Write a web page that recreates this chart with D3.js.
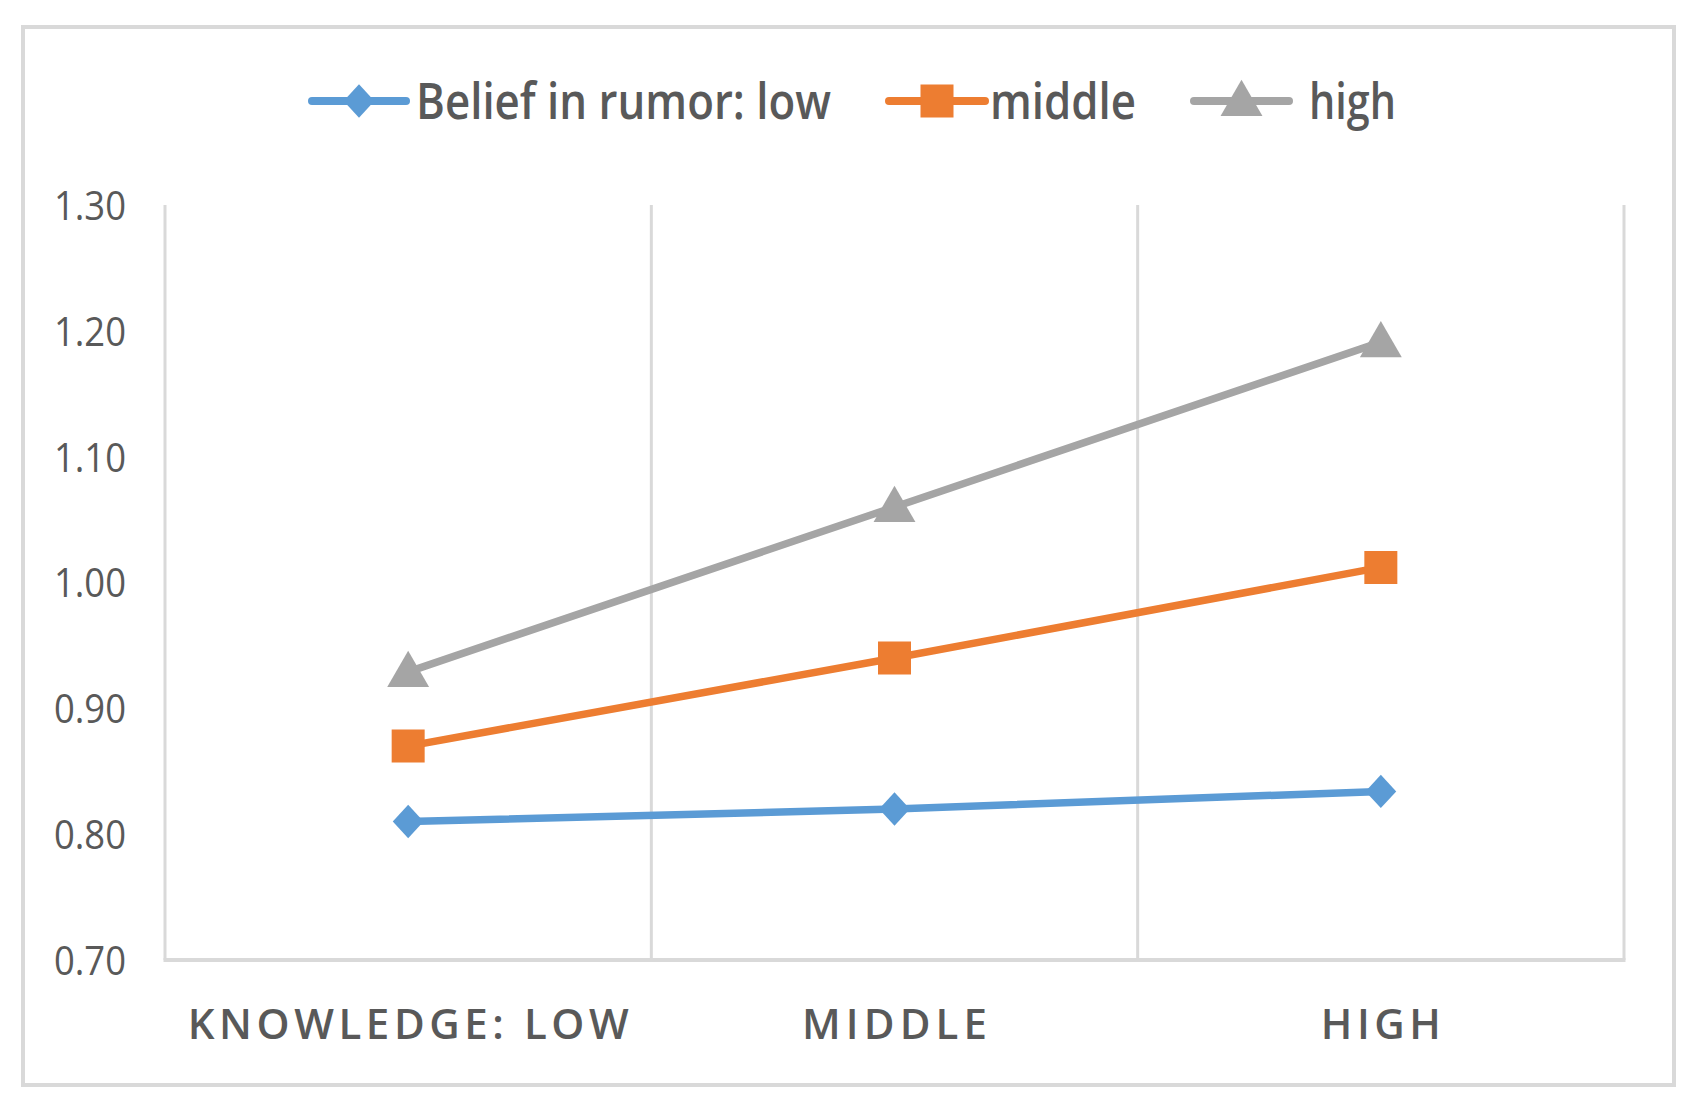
<!DOCTYPE html>
<html>
<head>
<meta charset="utf-8">
<script src="https://cdn.jsdelivr.net/npm/d3@7"></script>
<style>
  html, body { margin: 0; padding: 0; background: #ffffff; }
  svg { display: block; }
</style>
</head>
<body>
<script>
// ---- data ----
const categories = ["KNOWLEDGE: LOW", "MIDDLE", "HIGH"];
const seriesNames = ["Belief in rumor: low", "middle", "high"];
const beliefLow = [0.81, 0.82, 0.834];
const beliefMiddle = [0.87, 0.94, 1.012];
const beliefHigh = [0.929, 1.06, 1.191];
const yTicks = [0.70, 0.80, 0.90, 1.00, 1.10, 1.20, 1.30];

const W = 1700, H = 1116;
const margin = { left: 165, right: 1624, top: 205, bottom: 960 };
const colors = ["#5b9bd5", "#ed7d31", "#a5a5a5"];

const svg = d3.select("body").append("svg").attr("width", W).attr("height", H);

// outer border
svg.append("rect")
  .attr("x", 23).attr("y", 27).attr("width", 1651).attr("height", 1058)
  .attr("fill", "#ffffff").attr("stroke", "#d9d9d9").attr("stroke-width", 4);

const x = d3.scaleBand().domain(categories).range([margin.left, margin.right]).padding(0);
const y = d3.scaleLinear().domain([0.7, 1.3]).range([margin.bottom, margin.top]);

// vertical gridlines at category boundaries
const bounds = [margin.left].concat(categories.map(c => x(c) + x.bandwidth()));
svg.append("g").selectAll("line").data(bounds).join("line")
  .attr("x1", d => d).attr("x2", d => d)
  .attr("y1", margin.top).attr("y2", margin.bottom)
  .attr("stroke", "#d9d9d9").attr("stroke-width", 3);

// x axis line
svg.append("line")
  .attr("x1", margin.left - 1.5).attr("x2", margin.right + 1.5)
  .attr("y1", margin.bottom).attr("y2", margin.bottom)
  .attr("stroke", "#d9d9d9").attr("stroke-width", 4);

// y axis tick labels
const yAxis = svg.append("g")
  .attr("transform", `translate(${margin.left},0)`)
  .call(d3.axisLeft(y).tickValues(yTicks).tickFormat(d3.format(".2f")).tickSize(0).tickPadding(39));
yAxis.select(".domain").remove();
yAxis.selectAll("text")
  .attr("font-family", "'Open Sans', sans-serif")
  .attr("font-weight", 400)
  .attr("font-size", 40)
  .attr("fill", "#595959")
  .attr("dy", "0.36em")
  .attr("textLength", 72)
  .attr("lengthAdjust", "spacingAndGlyphs");

// x axis labels
const xLabelWidths = { "KNOWLEDGE: LOW": 441, "MIDDLE": 185, "HIGH": 120 };
const xAxis = svg.append("g")
  .attr("transform", `translate(0,${margin.bottom})`)
  .call(d3.axisBottom(x).tickSize(0).tickPadding(0));
xAxis.select(".domain").remove();
xAxis.selectAll("text")
  .attr("font-family", "'Liberation Sans Narrow', 'Open Sans', sans-serif")
  .attr("font-weight", 600)
  .attr("font-size", 42)
  .attr("fill", "#595959")
  .attr("y", 79).attr("dy", 0)
  .attr("text-anchor", "middle")
  .attr("textLength", d => xLabelWidths[d])
  .attr("lengthAdjust", "spacing");

// marker drawing
function marker(sel, si) {
  if (si === 0) {
    sel.attr("d", d3.symbol().type(d3.symbolSquare).size(560)())
      .attr("transform", function() { return d3.select(this).attr("data-t") + " scale(0.92,1) rotate(45)"; });
  } else if (si === 1) {
    sel.attr("d", d3.symbol().type(d3.symbolSquare).size(1089)())
      .attr("transform", function() { return d3.select(this).attr("data-t"); });
  } else {
    sel.attr("d", d3.symbol().type(d3.symbolTriangle).size(760)())
      .attr("transform", function() { return d3.select(this).attr("data-t") + " translate(0,3)"; });
  }
}

// series
const series = [beliefLow, beliefMiddle, beliefHigh];
const line = d3.line().x((d, i) => x(categories[i]) + x.bandwidth() / 2).y(d => y(d));

series.forEach((vals, si) => {
  const g = svg.append("g");
  g.append("path").datum(vals)
    .attr("d", line)
    .attr("fill", "none")
    .attr("stroke", colors[si])
    .attr("stroke-width", 7.5)
    .attr("stroke-linecap", "round")
    .attr("stroke-linejoin", "round");
  g.selectAll("path.m").data(vals).join("path")
    .attr("class", "m")
    .attr("data-t", (d, i) => `translate(${x(categories[i]) + x.bandwidth() / 2},${y(d)})`)
    .attr("fill", colors[si])
    .call(marker, si);
});

// legend
const legendItems = [
  { name: seriesNames[0], lx1: 312, lx2: 406, tx: 416, tw: 415 },
  { name: seriesNames[1], lx1: 889, lx2: 985, tx: 990, tw: 146 },
  { name: seriesNames[2], lx1: 1194, lx2: 1289, tx: 1309, tw: 87 }
];
const ly = 101;
legendItems.forEach((it, i) => {
  const g = svg.append("g");
  g.append("line")
    .attr("x1", it.lx1).attr("x2", it.lx2).attr("y1", ly).attr("y2", ly)
    .attr("stroke", colors[i]).attr("stroke-width", 8).attr("stroke-linecap", "round");
  const mx = (it.lx1 + it.lx2) / 2;
  g.append("path")
    .attr("data-t", `translate(${mx},${ly})`)
    .attr("fill", colors[i])
    .call(marker, i);
  g.append("text")
    .attr("x", it.tx).attr("y", 119)
    .attr("font-family", "'Liberation Sans Narrow', 'Open Sans', sans-serif")
    .attr("font-weight", 600)
    .attr("font-size", 51)
    .attr("fill", "#595959")
    .attr("textLength", it.tw)
    .attr("lengthAdjust", "spacingAndGlyphs")
    .text(it.name);
});
</script>
</body>
</html>
